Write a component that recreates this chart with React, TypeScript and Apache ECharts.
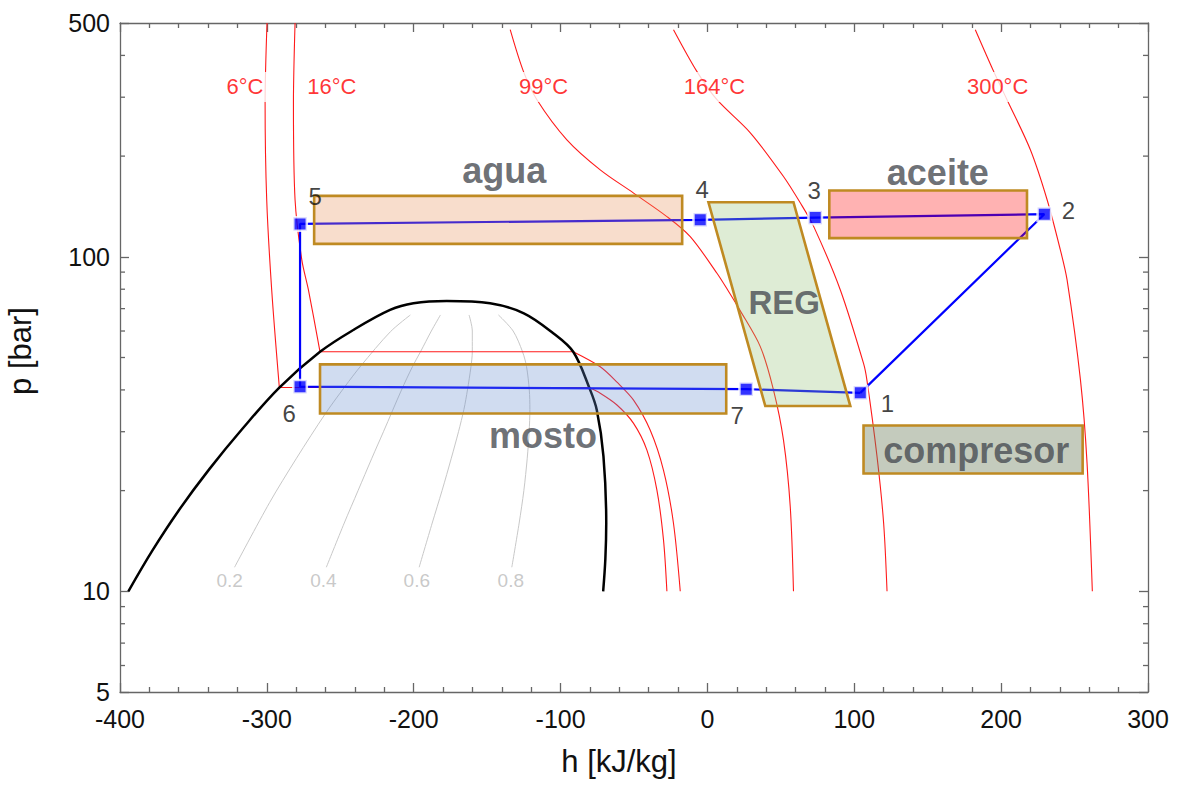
import React, { useEffect, useRef } from "react";
import * as echarts from "echarts";

// ---------------- data ----------------
const stateNames = ["1", "2", "3", "4", "5", "6", "7"];
const stateH = [104.1, 229.4, 73.4, -4.9, -277.4, -277.4, 26.4];
const stateP = [39.2, 134.1, 131.0, 129.0, 125.4, 40.9, 40.2];
const cycleOrder = [0, 1, 2, 3, 4, 5, 6, 0];
const stateLabelOffsets = [[27, 11], [24, -4], [-1, -27], [2, -30], [15, -27], [-11, 27], [-9, 26]];

const saturationDome = [
  [-394.3, 10], [-378.2, 13.19], [-359.9, 17.48], [-339.3, 23.15], [-316.5, 30.66], [-291.5, 40.65],
  [-263.8, 52.0], [-241.1, 60.43], [-216.1, 69.36], [-200.2, 72.63], [-177.5, 73.8],
  [-148, 72.6], [-125, 67.8], [-105, 59.1], [-91.4, 52.0], [-80.5, 40.65],
  [-75.3, 34.8], [-70.8, 25.3], [-68.9, 16.0], [-69.5, 12.5], [-71, 10],
];

const iso6Liquid = [[-299.9, 500], [-301.2, 288.8], [-300.1, 148.1], [-296.7, 79.6], [-291.5, 40.65]];
const iso6Flat = [[-291.5, 40.65], [-80.5, 40.65]];
const iso6Vapor = [[-80.5, 40.65], [-73, 39.1], [-61.6, 36.06], [-50.3, 31.78], [-41.2, 26.44], [-34.4, 20.07], [-29.9, 14.22], [-27.6, 10]];

const iso16Liquid = [[-280.8, 500], [-281.9, 288.8], [-280.8, 148.1], [-276.2, 97.9], [-271.7, 79.6], [-263.8, 52.0]];
const iso16Flat = [[-263.8, 52.0], [-91.4, 52.0]];
const iso16Vapor = [[-91.4, 52.0], [-73, 46.9], [-61.6, 42.2], [-50.3, 37.3], [-39, 30.35], [-29.9, 23.0], [-23.1, 15.95], [-18.5, 10]];

const iso99 = [[-134.3, 477.5], [-125.3, 358.4], [-116.1, 294.9], [-95.7, 223.8], [-73, 182], [-50.5, 155.3], [-27.6, 131.9], [-11.7, 114.9], [6.5, 89.3], [13.8, 79.6], [22.0, 69.4], [36, 53.9], [45, 39.96], [51.8, 28.3], [56.4, 17.9], [58.6, 10]];
const iso164 = [[-23.1, 477.5], [-7.2, 358.4], [6.5, 294.9], [29.2, 234.8], [51.8, 173.8], [63.2, 145], [72.4, 123.1], [90.5, 79.6], [106.3, 48], [108.6, 42.8], [115.5, 25.25], [120, 15.95], [122.3, 10]];
const iso300 = [[182.4, 477.5], [194.9, 358.4], [204, 294.9], [219.9, 208.9], [231.3, 148.1], [240.3, 104.9], [244.9, 85.3], [254, 42.85], [258.5, 24.17], [262.1, 10]];

const tempLabels = ["6°C", "16°C", "99°C", "164°C", "300°C"];
const tempLabelH = [-314.9, -255.8, -111.6, 4.8, 197.6];
const tempLabelP = [322, 322, 322, 322, 322];

const quality02 = [[-322, 11.8], [-298.2, 18.4], [-279.8, 25], [-260.1, 34], [-246.9, 40.9], [-236, 47.2], [-215.9, 59.7], [-202.3, 67]];
const quality04 = [[-259.5, 11.8], [-247.3, 16], [-237.9, 20], [-228.5, 25], [-220.6, 30], [-208.3, 40], [-200.8, 47], [-195.4, 52], [-188, 60], [-181.8, 67]];
const quality06 = [[-196.3, 11.8], [-187.4, 16], [-180.7, 20], [-174.4, 25], [-169.5, 30], [-165.8, 35], [-163.4, 40], [-161, 47], [-160.1, 52], [-160.1, 60], [-162.3, 67]];
const quality08 = [[-133.2, 11.8], [-128.2, 16], [-125, 20], [-122.7, 25], [-121.4, 30], [-120.9, 35], [-121.3, 40], [-123.2, 47], [-125.9, 52], [-132.3, 60], [-142.3, 67]];
const qualityLabels = ["0.2", "0.4", "0.6", "0.8"];
const qualityLabelH = [-325.3, -261.5, -197.9, -133.9];
const qualityLabelP = [10.8, 10.8, 10.8, 10.8];

const aguaBox = [[-267.8, 152.1], [-17.2, 152.1], [-17.2, 109.3], [-267.8, 109.3]];
const aceiteBox = [[83.0, 157.8], [217.6, 157.8], [217.6, 113.7], [83.0, 113.7]];
const mostoBox = [[-263.8, 47.7], [12.8, 47.7], [12.8, 34.0], [-263.8, 34.0]];
const compresorBox = [[106.3, 31.3], [255.5, 31.3], [255.5, 22.5], [106.3, 22.5]];
const regBox = [[0.7, 145.6], [58.6, 145.6], [97.3, 35.8], [39.4, 35.8]];

const boxTextNames = ["agua", "aceite", "mosto", "compresor", "REG"];
const boxTextH = [-138.4, 156.9, -111.9, 183.0, 52.3];
const boxTextP = [181.1, 178.9, 29.17, 26.3, 73.1];

const yMinorTicks = [6, 7, 8, 9, 20, 30, 40, 50, 60, 70, 80, 90, 200, 300, 400];

// ---------------- styles ----------------
const FONT = "'Liberation Sans', Arial, Helvetica, sans-serif";
const AXIS_COLOR = "#666666";
const RED = "#ff1a1a";
const boxShapes = [aguaBox, aceiteBox, mostoBox, compresorBox, regBox];
const boxFills = [
  "rgba(232,142,85,0.3)",
  "rgba(255,0,0,0.3)",
  "rgba(98,138,205,0.3)",
  "rgba(108,125,90,0.4)",
  "rgba(145,192,115,0.3)",
];
const boxTextSizes = [36, 36, 36, 36, 33];

const curve = (data: number[][], color: string, width: number, z: number, smooth: number | boolean = 0.3) => ({
  type: "line",
  data,
  showSymbol: false,
  symbol: "none",
  smooth,
  silent: true,
  lineStyle: { color, width },
  z,
});

const xAxisBase = {
  type: "value",
  min: -400,
  max: 300,
  interval: 100,
  axisLine: { show: true, onZero: false, lineStyle: { color: AXIS_COLOR, width: 1.3 } },
  axisTick: { show: true, inside: true, length: 9, lineStyle: { color: AXIS_COLOR, width: 1.3 } },
  minorTick: { show: true, splitNumber: 5, length: 5, lineStyle: { color: AXIS_COLOR, width: 1.3 } },
  splitLine: { show: false },
  minorSplitLine: { show: false },
};

const yAxisBase = {
  type: "log",
  logBase: 10,
  min: 5,
  max: 500,
  axisLine: { show: true, onZero: false, lineStyle: { color: AXIS_COLOR, width: 1.3 } },
  axisTick: { show: true, inside: true, length: 9, lineStyle: { color: AXIS_COLOR, width: 1.3 } },
  minorTick: { show: false },
  splitLine: { show: false },
};

const option: any = {
  animation: false,
  backgroundColor: "#ffffff",
  textStyle: { fontFamily: FONT },
  grid: { left: 120, right: 30, top: 23, bottom: 93 },
  xAxis: [
    {
      ...xAxisBase,
      position: "bottom",
      axisLabel: { color: "#111", fontSize: 25, fontFamily: FONT, margin: 14 },
    },
    { ...xAxisBase, position: "top", axisLabel: { show: false } },
  ],
  yAxis: [
    {
      ...yAxisBase,
      position: "left",
      axisLabel: { color: "#111", fontSize: 25, fontFamily: FONT, margin: 10, formatter: (v: number) => String(Math.round(v)) },
    },
    { ...yAxisBase, position: "right", axisLabel: { show: false } },
  ],
  graphic: [
    {
      type: "text",
      x: 619,
      y: 761,
      style: { text: "h [kJ/kg]", fontSize: 31, fontFamily: FONT, fill: "#111", align: "center", verticalAlign: "middle" },
    },
    {
      type: "text",
      x: 20,
      y: 351,
      rotation: Math.PI / 2,
      style: { text: "p [bar]", fontSize: 31, fontFamily: FONT, fill: "#111", align: "center", verticalAlign: "middle" },
    },
  ],
  series: [
    curve(quality02, "#c8c8c8", 1, 1),
    curve(quality04, "#c8c8c8", 1, 1),
    curve(quality06, "#c8c8c8", 1, 1),
    curve(quality08, "#c8c8c8", 1, 1),
    curve(iso6Liquid, RED, 1.1, 2),
    curve(iso6Flat, RED, 1.1, 2, false),
    curve(iso6Vapor, RED, 1.1, 2),
    curve(iso16Liquid, RED, 1.1, 2),
    curve(iso16Flat, RED, 1.1, 2, false),
    curve(iso16Vapor, RED, 1.1, 2),
    curve(iso99, RED, 1.1, 2),
    curve(iso164, RED, 1.1, 2),
    curve(iso300, RED, 1.1, 2),
    curve(saturationDome, "#000000", 2.5, 3, 0.35),
    {
      type: "line",
      data: cycleOrder.map((i) => [stateH[i], stateP[i]]),
      showSymbol: false,
      symbol: "none",
      smooth: false,
      silent: true,
      lineStyle: { color: "#0000ff", width: 2.2 },
      z: 4,
    },
    {
      type: "custom",
      silent: true,
      z: 5,
      data: boxShapes.map((s) => s[0]),
      renderItem: (params: any, api: any) => {
        const pts = boxShapes[params.dataIndex].map((pt) => api.coord(pt));
        return {
          type: "polygon",
          shape: { points: pts },
          style: { fill: boxFills[params.dataIndex], stroke: "#bf8a22", lineWidth: 2.6, lineJoin: "miter" },
        };
      },
    },
    {
      type: "scatter",
      silent: true,
      z: 6,
      symbol: "rect",
      symbolSize: 13.5,
      itemStyle: { color: "#0000ff", borderColor: "#ffffff", borderWidth: 2.5 },
      data: stateNames.map((n, i) => ({
        name: n,
        value: [stateH[i], stateP[i]],
        label: { offset: stateLabelOffsets[i] },
      })),
      label: {
        show: true,
        position: "inside",
        formatter: "{b}",
        color: "#111",
        fontSize: 24,
        fontFamily: FONT,
        align: "center",
        verticalAlign: "middle",
      },
    },
    {
      type: "scatter",
      silent: true,
      z: 7,
      symbolSize: 1,
      itemStyle: { color: "rgba(0,0,0,0)" },
      data: boxTextNames.map((n, i) => ({
        name: n,
        value: [boxTextH[i], boxTextP[i]],
        label: { fontSize: boxTextSizes[i] },
      })),
      label: {
        show: true,
        position: "inside",
        formatter: "{b}",
        color: "#474b52",
        fontWeight: "bold",
        fontFamily: FONT,
        align: "center",
        verticalAlign: "middle",
      },
    },
    {
      type: "scatter",
      silent: true,
      z: 8,
      symbolSize: 1,
      itemStyle: { color: "rgba(0,0,0,0)" },
      data: tempLabels.map((n, i) => ({ name: n, value: [tempLabelH[i], tempLabelP[i]] })),
      label: {
        show: true,
        position: "inside",
        formatter: "{b}",
        color: "#ff0000",
        fontSize: 22,
        fontFamily: FONT,
        align: "center",
        verticalAlign: "middle",
        backgroundColor: "#ffffff",
        padding: [4, 5],
      },
    },
    {
      type: "scatter",
      silent: true,
      z: 8,
      symbolSize: 1,
      itemStyle: { color: "rgba(0,0,0,0)" },
      data: qualityLabels.map((n, i) => ({ name: n, value: [qualityLabelH[i], qualityLabelP[i]] })),
      label: {
        show: true,
        position: "inside",
        formatter: "{b}",
        color: "#bbbbbb",
        fontSize: 19,
        fontFamily: FONT,
        align: "center",
        verticalAlign: "middle",
      },
    },
    {
      type: "custom",
      silent: true,
      z: 9,
      data: yMinorTicks.map((p) => [-400, p]),
      renderItem: (params: any, api: any) => {
        const p = api.value(1);
        const l = api.coord([-400, p]);
        const r = api.coord([300, p]);
        const st = { stroke: AXIS_COLOR, lineWidth: 1.3 };
        return {
          type: "group",
          children: [
            { type: "line", shape: { x1: l[0], y1: l[1], x2: l[0] + 5, y2: l[1] }, style: st },
            { type: "line", shape: { x1: r[0], y1: r[1], x2: r[0] - 5, y2: r[1] }, style: st },
          ],
        };
      },
    },
  ],
};

export default function App() {
  const ref = useRef<HTMLDivElement>(null);
  useEffect(() => {
    document.body.style.margin = "0";
    const chart = echarts.init(ref.current as HTMLDivElement, null, { renderer: "svg" });
    chart.setOption(option);
    return () => chart.dispose();
  }, []);
  return (
    <div
      ref={ref}
      style={{ position: "absolute", left: 0, top: 0, width: 1178, height: 785, background: "#fff" }}
    />
  );
}
